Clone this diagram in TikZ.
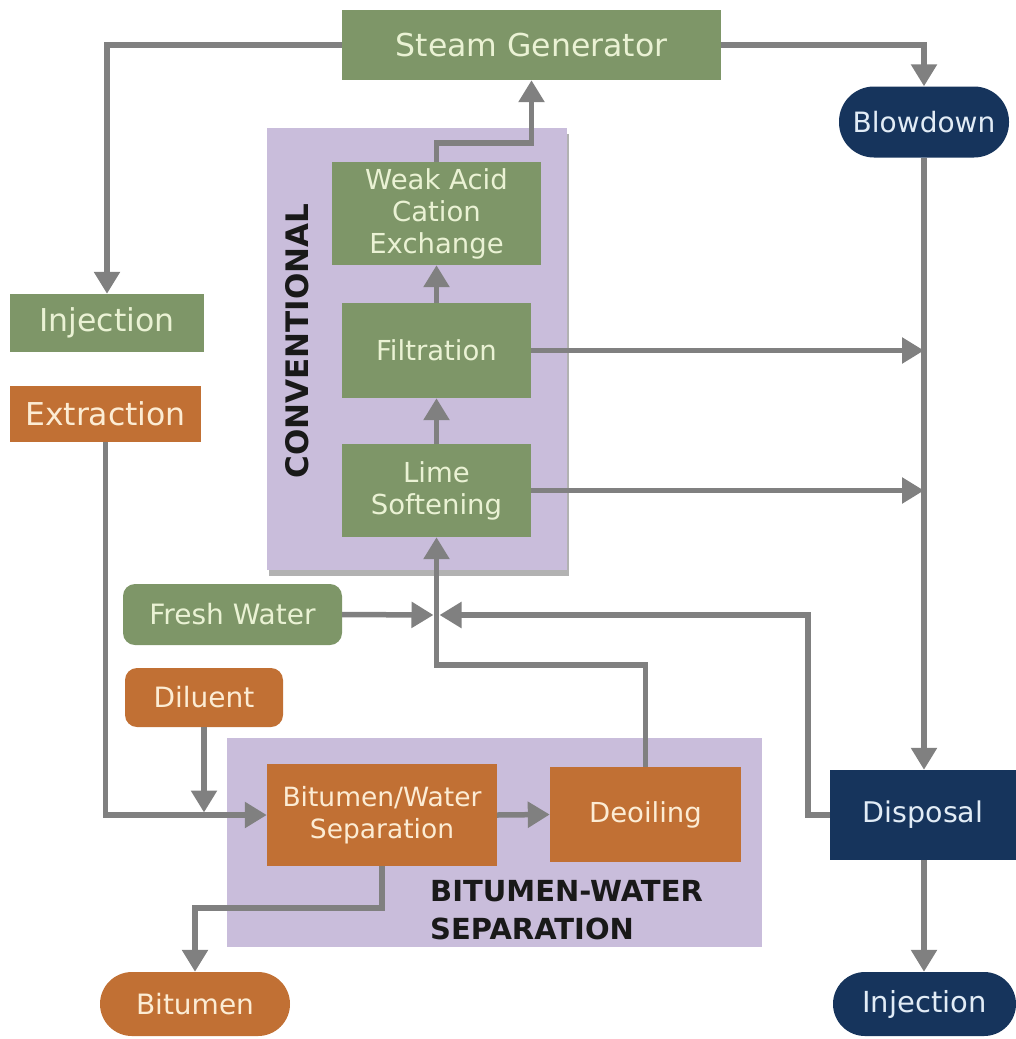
\documentclass[tikz,border=0pt]{standalone}
\usepackage{fontspec}
\setmainfont{DejaVu Sans}
\usetikzlibrary{arrows.meta,shadows}
\definecolor{cgreen}{RGB}{126,150,104}
\definecolor{tgreen}{RGB}{234,242,212}
\definecolor{corange}{RGB}{193,112,52}
\definecolor{torange}{RGB}{252,236,212}
\definecolor{cnavy}{RGB}{22,52,92}
\definecolor{tnavy}{RGB}{226,236,246}
\definecolor{cpurple}{RGB}{201,189,219}
\definecolor{cgray}{RGB}{128,128,128}
\newcommand\fsz[1]{\fontsize{#1pt}{32pt}\selectfont}
\tikzset{
  box/.style={rectangle, inner sep=0pt, align=center},
  gbox/.style={box, fill=cgreen, text=tgreen},
  obox/.style={box, fill=corange, text=torange},
  nbox/.style={box, fill=cnavy, text=tnavy},
  flow/.style={draw=cgray, line width=5.5pt, -{Triangle[length=22pt,width=25pt]}},
  panel/.style={fill=cpurple, draw=none},
}
\begin{document}
\begin{tikzpicture}[x=1pt,y=-1pt]
\useasboundingbox (0,0) rectangle (1016,1039);
% panels
\fill[panel, drop shadow={shadow xshift=2pt, shadow yshift=-6pt, fill=black, opacity=0.3}] (267,128) rectangle (567,570);
\fill[panel] (227,738) rectangle (762,947);
% nodes
\node[gbox, minimum width=379pt, minimum height=70pt, font=\fsz{31.5}] (sg) at (531.5,45) {Steam Generator};
\node[nbox, minimum width=170pt, minimum height=71pt, rounded corners=35pt, font=\fsz{28}] (blow) at (924,122) {Blowdown};
\node[gbox, minimum width=209pt, minimum height=103pt, font=\fsz{27.5}] (wac) at (436.5,213.5) {Weak Acid\\Cation\\Exchange};
\node[gbox, minimum width=189pt, minimum height=95pt, font=\fsz{27.5}] (filt) at (436.5,350.5) {Filtration};
\node[gbox, minimum width=189pt, minimum height=93pt, font=\fsz{27.5}] (lime) at (436.5,490.5) {Lime\\Softening};
\node[gbox, minimum width=194pt, minimum height=58pt, font=\fsz{31.5}] (inj) at (107,323) {Injection};
\node[obox, minimum width=191pt, minimum height=56pt, font=\fsz{31.5}] (ext) at (105.5,414) {Extraction};
\node[gbox, minimum width=219pt, minimum height=61pt, rounded corners=12pt, font=\fsz{28}] (fresh) at (232.5,614.5) {Fresh Water};
\node[obox, minimum width=158pt, minimum height=59pt, rounded corners=12pt, font=\fsz{28}] (dil) at (204,697.5) {Diluent};
\node[obox, minimum width=230pt, minimum height=102pt, font=\fsz{26.5}] (bw) at (382,815) {Bitumen/Water\\Separation};
\node[obox, minimum width=191pt, minimum height=95pt, font=\fsz{27.5}] (deo) at (645.5,814.5) {Deoiling};
\node[obox, minimum width=190pt, minimum height=64pt, rounded corners=32pt, font=\fsz{28}] (bit) at (195,1004) {Bitumen};
\node[nbox, minimum width=186pt, minimum height=90pt, font=\fsz{28.5}] (disp) at (923,815) {Disposal};
\node[nbox, minimum width=183pt, minimum height=64pt, rounded corners=32pt, font=\fsz{29}] (injn) at (924.5,1004) {Injection};
% labels
\node[rotate=90, inner sep=0pt, font=\fsz{31}\bfseries, text=black!90] (convlabel) at (297,341) {CONVENTIONAL};
\node[anchor=north west, inner sep=0pt, align=left, font=\fontsize{29pt}{38pt}\selectfont\bfseries, text=black!90] (bwslabel) at (430,880) {BITUMEN-WATER\\SEPARATION};
% coordinates
\coordinate (up1) at (436.5,143);
\coordinate (jl) at (433.5,615);
\coordinate (jr) at (439.5,615);
\coordinate (rturn) at (808,615);
\coordinate (dturn) at (436.5,665);
\coordinate (bturn) at (382,908);
\coordinate (dilend) at (204,812.5);
% connectors
\draw[flow] (sg.west) -| (inj.north);
\draw[flow] (sg.east) -| (blow.north);
\draw[flow] (wac.north) -- (up1) -| (sg.south);
\draw[flow] (filt.north) -- (wac.south);
\draw[flow] (lime.north) -- (filt.south);
\draw[flow] (fresh.east) -- (jl);
\draw[flow] (disp.west) -| (rturn) -- (jr);
\draw[flow] (deo.north) |- (dturn) -- (lime.south);
\draw[flow] (filt.east) -- (filt.east -| blow.south);
\draw[flow] (lime.east) -- (lime.east -| blow.south);
\draw[flow] (blow.south) -- (blow.south |- disp.north);
\draw[flow] (blow.south |- disp.south) -- (blow.south |- injn.north);
\draw[flow] (ext.south) |- (bw.west);
\draw[flow] (dil.south) -- (dilend);
\draw[flow] (bw.east) -- (deo.west);
\draw[flow] (bw.south) -- (bturn) -| (bit.north);
\end{tikzpicture}
\end{document}
